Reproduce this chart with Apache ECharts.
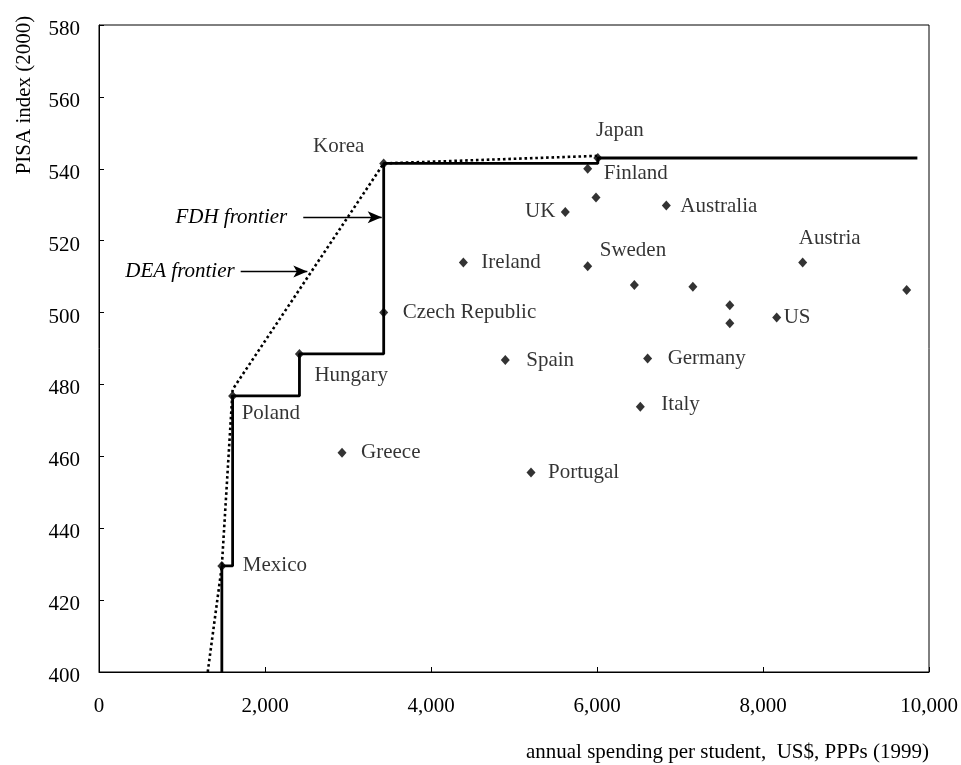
<!DOCTYPE html>
<html>
<head>
<meta charset="utf-8">
<script src="https://cdn.jsdelivr.net/npm/echarts@6/dist/echarts.min.js"></script>
<style>html,body{margin:0;padding:0;background:#fff;}#c{width:961px;height:765px;}</style>
</head>
<body>
<div id="c"></div>
<script>
// ---- data ----
var countries = ['Mexico','Poland','Hungary','Greece','Czech Republic','Korea','Ireland','Spain','Portugal','UK','Sweden','Finland','','Japan','','Italy','Germany','Australia','','','','US','Austria',''];
var spending  = [1480,1610,2415,2928,3430,3430,4390,4895,5205,5618,5888,5888,5988,6010,6450,6522,6610,6835,7155,7600,7600,8165,8478,9731];
var pisa      = [429.5,476.8,488.5,461.0,500.0,541.5,513.9,486.8,455.5,528.0,512.9,540.0,532.0,543.0,507.7,473.8,487.2,529.8,507.2,502.0,497.0,498.6,513.9,506.3];

var fdhX = [1480,1480,1610,1610,2415,2415,3430,3430,6010,6010,9860];
var fdhY = [400,429.5,429.5,476.8,476.8,488.5,488.5,541.5,541.5,543.0,543.0];
var deaX = [1310,1480,1610,3430,6010];
var deaY = [400,429.5,478.6,541.5,543.6];

var xTicks = [0,2000,4000,6000,8000,10000];
var yTicks = [400,420,440,460,480,500,520,540,560,580];

var fdhLabel = 'FDH frontier', deaLabel = 'DEA frontier';
var fdhArrowX = [2461,3406], fdhArrowY = 526.5;
var deaArrowX = [1707,2510], deaArrowY = 511.4;

// ---- label placement (style only) ----
var FONT = 'Liberation Serif';
var labelStyle = {
  'Korea':          {align:'center', offset:[-45,-17]},
  'Japan':          {align:'center', offset:[22,-28]},
  'Finland':        {align:'left',   offset:[16,5]},
  'UK':             {align:'right',  offset:[-10,0]},
  'Australia':      {align:'left',   offset:[14,1]},
  'Sweden':         {align:'left',   offset:[12,-16]},
  'Ireland':        {align:'left',   offset:[18,0]},
  'Czech Republic': {align:'left',   offset:[19,0]},
  'Hungary':        {align:'left',   offset:[15,22]},
  'Poland':         {align:'left',   offset:[9,18]},
  'Greece':         {align:'left',   offset:[19,0]},
  'Mexico':         {align:'left',   offset:[21,0]},
  'Spain':          {align:'left',   offset:[21,0]},
  'Germany':        {align:'left',   offset:[20,0]},
  'Italy':          {align:'left',   offset:[21,-2]},
  'Portugal':       {align:'left',   offset:[17,0]},
  'Austria':        {align:'center', offset:[27,-24]},
  'US':             {align:'left',   offset:[7,0]}
};

var pts = countries.map(function(n,i){
  var st = labelStyle[n];
  var d = {name:n, value:[spending[i], pisa[i]]};
  if (st) {
    d.label = {show:true, position:'inside', align:st.align, verticalAlign:'middle', offset:st.offset,
               formatter:n, color:'#000', fontFamily:FONT, fontSize:21};
  }
  return d;
});

var chart = echarts.init(document.getElementById('c'), null, {renderer:'canvas'});
chart.setOption({
  animation:false,
  backgroundColor:'#fff',
  textStyle:{fontFamily:FONT, color:'#000'},
  grid:{left:99, right:32, top:25, bottom:93, show:true, borderColor:'#000', borderWidth:1},
  xAxis:{type:'value', min:xTicks[0], max:xTicks[xTicks.length-1], interval:2000,
    axisLine:{lineStyle:{color:'#000', width:1}},
    axisTick:{inside:true, length:5, lineStyle:{color:'#000'}},
    splitLine:{show:false},
    axisLabel:{margin:24, color:'#000', fontFamily:FONT, fontSize:21,
      formatter:function(v){return v.toLocaleString('en-US');}}
  },
  yAxis:{type:'value', min:yTicks[0], max:yTicks[yTicks.length-1], interval:20,
    axisLine:{lineStyle:{color:'#000', width:1}},
    axisTick:{inside:true, length:5, lineStyle:{color:'#000'}},
    splitLine:{show:false},
    axisLabel:{margin:19, color:'#000', fontFamily:FONT, fontSize:21,
      formatter:function(v){return '{a|' + v + '}';},
      rich:{a:{fontFamily:FONT, fontSize:21, color:'#000', padding:[9,0,0,0]}}}
  },
  graphic:[
    {type:'text', x:24, y:95, rotation:Math.PI/2,
     style:{text:'PISA index (2000)', font:'21px "Liberation Serif"', fill:'#000', textAlign:'center', textVerticalAlign:'middle'}},
    {type:'text', x:929, y:752,
     style:{text:'annual spending per student,  US$, PPPs (1999)', font:'21px "Liberation Serif"', fill:'#000', textAlign:'right', textVerticalAlign:'middle'}}
  ],
  series:[
    {type:'line', name:'DEA', data:deaX.map(function(x,i){return [x,deaY[i]];}),
     showSymbol:false, symbol:'none', silent:true, z:2,
     lineStyle:{color:'#000', width:2.6, type:[2.6,2.8]},
     markLine:{silent:true, symbol:['none','arrow'], symbolSize:[9,14],
       lineStyle:{color:'#000', width:1.3, type:'solid'},
       label:{show:true, position:'start', color:'#000', fontFamily:FONT, fontSize:21, fontStyle:'italic'},
       data:[
         [{coord:[fdhArrowX[0],fdhArrowY], label:{formatter:fdhLabel, distance:16}},{coord:[fdhArrowX[1],fdhArrowY]}],
         [{coord:[deaArrowX[0],deaArrowY], label:{formatter:deaLabel, distance:6}},{coord:[deaArrowX[1],deaArrowY]}]
       ]}
    },
    {type:'line', name:'FDH', data:fdhX.map(function(x,i){return [x,fdhY[i]];}),
     showSymbol:false, symbol:'none', silent:true, z:3,
     lineStyle:{color:'#000', width:2.8}},
    {type:'scatter', name:'countries', data:pts, symbol:'diamond', symbolSize:[9,10], z:5,
     itemStyle:{color:'#000'}, label:{show:false}}
  ]
});
</script>
</body>
</html>
